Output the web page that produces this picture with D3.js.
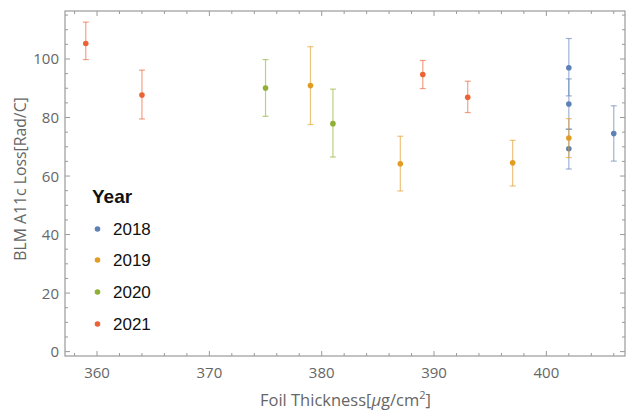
<!DOCTYPE html>
<html><head><meta charset="utf-8">
<script src="https://cdn.jsdelivr.net/npm/d3@7"></script>
<style>body{margin:0;background:#fff}svg{display:block}</style>
</head><body><svg id="c" width="630" height="411"></svg>
<script>
const years = ["2018","2019","2020","2021"];
const colors = ["#5E81B5","#E19C24","#8FB032","#EB6235"];
// each series: thickness, value, lower error end, upper error end
const thick2018 = [402, 402, 402, 406];
const value2018 = [97.0, 84.6, 69.3, 74.5];
const low2018   = [87.4, 76.0, 62.4, 65.1];
const high2018  = [107.0, 93.2, 76.0, 84.0];
const thick2019 = [379, 387, 397, 402];
const value2019 = [90.9, 64.2, 64.5, 73.0];
const low2019   = [77.6, 54.9, 56.6, 66.3];
const high2019  = [104.2, 73.6, 72.2, 79.6];
const thick2020 = [375, 381];
const value2020 = [90.1, 77.9];
const low2020   = [80.4, 66.5];
const high2020  = [99.8, 89.7];
const thick2021 = [359, 364, 389, 393];
const value2021 = [105.3, 87.7, 94.7, 86.9];
const low2021   = [99.8, 79.5, 89.9, 81.7];
const high2021  = [112.6, 96.2, 99.5, 92.4];
const xTicks = [360, 370, 380, 390, 400];
const yTicks = [0, 20, 40, 60, 80, 100];

const series = [
  {t: thick2018, v: value2018, lo: low2018, hi: high2018},
  {t: thick2019, v: value2019, lo: low2019, hi: high2019},
  {t: thick2020, v: value2020, lo: low2020, hi: high2020},
  {t: thick2021, v: value2021, lo: low2021, hi: high2021}
];

const L = 65, R = 625, T = 11, B = 356;
const x = d3.scaleLinear().domain([357.15, 407.0]).range([L, R]);
const y = d3.scaleLinear().domain([-1.5, 116.4]).range([B, T]);
const svg = d3.select("#c");
const frameCol = "#9a9a9a";
const tickFont = "'Open Sans', sans-serif";

// frame
svg.append("rect").attr("x", L).attr("y", T).attr("width", R - L).attr("height", B - T)
  .attr("fill", "none").attr("stroke", frameCol).attr("stroke-width", 1.2);

// ticks
const xMinor = d3.range(358, 407, 2).filter(v => v % 10 !== 0);
const yMinor = d3.range(5, 116, 5).filter(v => v % 20 !== 0);
const tg = svg.append("g").attr("stroke", frameCol).attr("stroke-width", 1);
function xt(vals, len) {
  vals.forEach(v => {
    tg.append("line").attr("x1", x(v)).attr("x2", x(v)).attr("y1", B).attr("y2", B - len);
    tg.append("line").attr("x1", x(v)).attr("x2", x(v)).attr("y1", T).attr("y2", T + len);
  });
}
function yt(vals, len) {
  vals.forEach(v => {
    tg.append("line").attr("y1", y(v)).attr("y2", y(v)).attr("x1", L).attr("x2", L + len);
    tg.append("line").attr("y1", y(v)).attr("y2", y(v)).attr("x1", R).attr("x2", R - len);
  });
}
xt(xTicks, 5); xt(xMinor, 3); yt(yTicks, 5); yt(yMinor, 3);

// tick labels
svg.append("g").selectAll("text").data(xTicks).join("text")
  .attr("x", d => x(d)).attr("y", 378).attr("text-anchor", "middle")
  .attr("font-family", tickFont).attr("font-size", 15).attr("fill", "#666").text(d => d);
svg.append("g").selectAll("text").data(yTicks).join("text")
  .attr("x", 59).attr("y", d => y(d) + 5.5).attr("text-anchor", "end")
  .attr("font-family", tickFont).attr("font-size", 15).attr("fill", "#666").text(d => d);

// axis titles
const xl = svg.append("text").attr("x", 345.5).attr("y", 406).attr("text-anchor", "middle")
  .attr("font-family", tickFont).attr("font-size", 16.5).attr("fill", "#666");
xl.append("tspan").text("Foil Thickness[");
xl.append("tspan").attr("font-style", "italic").text("μ");
xl.append("tspan").text("g/cm");
xl.append("tspan").attr("dy", -7).attr("font-size", 11).text("2");
xl.append("tspan").attr("dy", 7).text("]");
svg.append("text").attr("transform", "translate(26,179) rotate(-90)").attr("text-anchor", "middle")
  .attr("font-family", tickFont).attr("font-size", 15.8).attr("fill", "#666").text("BLM A11c Loss[Rad/C]");

// data
series.forEach((s, i) => {
  const g = svg.append("g");
  const c = colors[i];
  s.t.forEach((t, j) => {
    const eg = g.append("g").attr("stroke", c).attr("stroke-opacity", 0.6).attr("stroke-width", 1.2);
    eg.append("line").attr("x1", x(t)).attr("x2", x(t)).attr("y1", y(s.lo[j])).attr("y2", y(s.hi[j]));
    eg.append("line").attr("x1", x(t) - 3).attr("x2", x(t) + 3).attr("y1", y(s.lo[j])).attr("y2", y(s.lo[j]));
    eg.append("line").attr("x1", x(t) - 3).attr("x2", x(t) + 3).attr("y1", y(s.hi[j])).attr("y2", y(s.hi[j]));
  });
  s.t.forEach((t, j) => {
    g.append("circle").attr("cx", x(t)).attr("cy", y(s.v[j])).attr("r", 2.8).attr("fill", c);
  });
});

// legend
const lf = "'Liberation Sans', Arial, sans-serif";
svg.append("text").attr("x", 92).attr("y", 203).attr("font-family", lf).attr("font-weight", "bold")
  .attr("font-size", 19).attr("fill", "#111").text("Year");
const ly = [229, 260, 292, 324];
years.forEach((yr, i) => {
  svg.append("circle").attr("cx", 97.5).attr("cy", ly[i]).attr("r", 2.8).attr("fill", colors[i]);
  svg.append("text").attr("x", 113).attr("y", ly[i] + 6).attr("font-family", lf).attr("font-size", 17)
    .attr("fill", "#111").text(yr);
});
</script></body></html>
